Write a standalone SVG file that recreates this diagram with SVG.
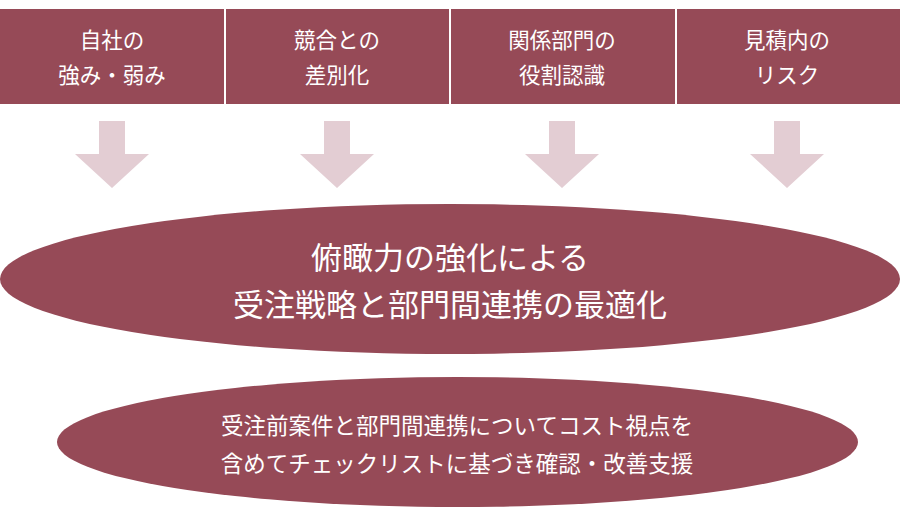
<svg xmlns="http://www.w3.org/2000/svg" width="900" height="519" viewBox="0 0 900 519">
<style>
.box{fill:#964A57}
.arr{fill:#E3CDD3}
.t{fill:#fff;font-family:"Noto Sans CJK JP","Noto Sans",sans-serif;text-anchor:middle}
.h{font-size:21.5px}
.b{font-size:31px}
.s{font-size:22.5px}
</style>
<rect x="0" y="0" width="900" height="519" fill="#fff"/>
<g id="n1"><rect class="box" x="0" y="9" width="224" height="95"/><text class="t h" x="112" y="48">自社の</text><text class="t h" x="112" y="83">強み・弱み</text></g>
<g id="n2"><rect class="box" x="226" y="9" width="223" height="95"/><text class="t h" x="337" y="48">競合との</text><text class="t h" x="337" y="83">差別化</text></g>
<g id="n3"><rect class="box" x="451" y="9" width="224" height="95"/><text class="t h" x="562" y="48">関係部門の</text><text class="t h" x="562" y="83">役割認識</text></g>
<g id="n4"><rect class="box" x="677" y="9" width="223" height="95"/><text class="t h" x="787" y="48">見積内の</text><text class="t h" x="787" y="83">リスク</text></g>
<g id="connectors">
<polygon class="arr" points="99,121 125,121 125,154 149,154 112,188 75,154 99,154"/>
<polygon class="arr" points="324,121 350,121 350,154 374,154 337,188 300,154 324,154"/>
<polygon class="arr" points="549,121 575,121 575,154 599,154 562,188 525,154 549,154"/>
<polygon class="arr" points="774,121 800,121 800,154 824,154 787,188 750,154 774,154"/>
</g>
<g id="n5"><ellipse class="box" cx="450" cy="279" rx="450" ry="75"/><text class="t b" x="450" y="269">俯瞰力の強化による</text><text class="t b" x="450" y="316">受注戦略と部門間連携の最適化</text></g>
<g id="n6"><ellipse class="box" cx="457.5" cy="442" rx="400.5" ry="65"/><text class="t s" x="457" y="434">受注前案件と部門間連携についてコスト視点を</text><text class="t s" x="457" y="472">含めてチェックリストに基づき確認・改善支援</text></g>
</svg>
